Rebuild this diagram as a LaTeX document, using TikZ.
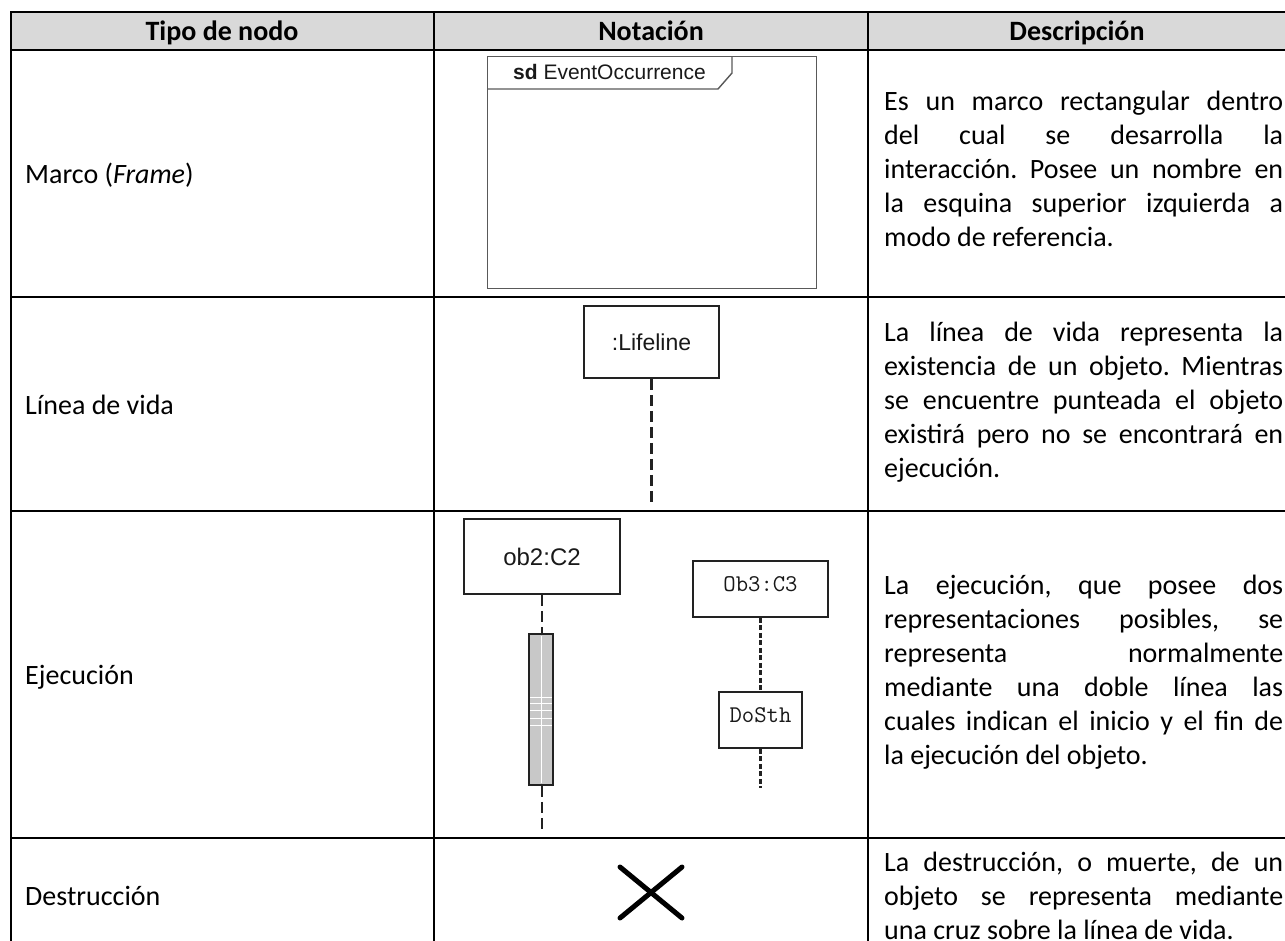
\documentclass[tikz,border=0pt]{standalone}
\usepackage{fontspec}
\setmainfont{Carlito}
\newfontfamily\arialf{Liberation Sans}
\frenchspacing
\newlength{\dcolw}\setlength{\dcolw}{399pt}
\newcommand{\jline}[1]{\makebox[\dcolw][s]{#1}}
\newcommand{\fstrut}{\rule{0pt}{24pt}}
\definecolor{hdrgray}{HTML}{D9D9D9}
\definecolor{bargray}{HTML}{C8C8C8}
\definecolor{umlline}{HTML}{222222}
\begin{document}
\begin{tikzpicture}[x=1pt,y=-1pt,
  hdr/.style={font=\fontsize{28}{34}\selectfont\bfseries, anchor=base, inner sep=0pt},
  lbl/.style={font=\fontsize{28}{34}\selectfont, anchor=base west, inner sep=0pt},
  desc/.style={font=\fontsize{28}{34}\selectfont\frenchspacing, anchor=north west, inner sep=0pt, align=left},
  gridline/.style={line width=2.2pt, black},
  umlbox/.style={draw=umlline, line width=1.7pt, inner sep=0pt, font=\arialf\fontsize{23}{26}\selectfont, text=black!90},
  ttbox/.style={draw=umlline, line width=1.7pt, inner sep=0pt, font=\ttfamily\fontsize{24}{26}\selectfont, text=black!90, text depth=10pt},
  lifedash/.style={line width=2.2pt, umlline, dash pattern=on 11pt off 5pt},
  densedash/.style={line width=2.6pt, umlline, dash pattern=on 5pt off 2.5pt},
  crossline/.style={line width=5pt, black, line cap=round}]
\useasboundingbox (0,0) rectangle (1285,940);
\clip (0,0) rectangle (1285,940);
% header background
\fill[hdrgray] (11,12) rectangle (1290,50);
% table grid
\draw[gridline] (11,12) -- (1290,12);
\draw[gridline] (11,50) -- (1290,50);
\draw[gridline] (11,297) -- (1290,297);
\draw[gridline] (11,511) -- (1290,511);
\draw[gridline] (11,838) -- (1290,838);
\draw[gridline] (11,11) -- (11,960);
\draw[gridline] (434,12) -- (434,960);
\draw[gridline] (868,12) -- (868,960);
\draw[gridline] (1287,12) -- (1287,960);
% headers
\node[hdr] (h1) at (222,40) {Tipo de nodo};
\node[hdr] (h2) at (651,40) {Notación};
\node[hdr] (h3) at (1077,40) {Descripción};
% first column
\node[lbl] (l1) at (25,183) {Marco (\textit{Frame})};
\node[lbl] (l2) at (25,414) {Línea de vida};
\node[lbl] (l3) at (25,684) {Ejecución};
\node[lbl] (l4) at (25,905) {Destrucción};
% descriptions
\node[desc] (d1) at (884,86) {\fstrut\jline{Es un marco rectangular dentro}\\
\jline{del cual se desarrolla la}\\
\jline{interacción. Posee un nombre en}\\
\jline{la esquina superior izquierda a}\\
modo de referencia.};
\node[desc] (d2) at (884,317) {\fstrut\jline{La línea de vida representa la}\\
\jline{existencia de un objeto. Mientras}\\
\jline{se encuentre punteada el objeto}\\
\jline{existirá pero no se encontrará en}\\
ejecución.};
\node[desc] (d3) at (884,570) {\fstrut\jline{La ejecución, que posee dos}\\
\jline{representaciones posibles, se}\\
\jline{representa normalmente}\\
\jline{mediante una doble línea las}\\
\jline{cuales indican el inicio y el fin de}\\
la ejecución del objeto.};
\node[desc] (d4) at (884,847) {\fstrut\jline{La destrucción, o muerte, de un}\\
\jline{objeto se representa mediante}\\
una cruz sobre la línea de vida.};
% row 1: frame
\node[draw=black!65, line width=1.4pt, minimum width=329pt, minimum height=232pt, anchor=north west, inner sep=0pt] (frame) at (487,56) {};
\draw[black!65, line width=1.4pt] (487,89) -- (718,89) -- (732,73) -- (732,56);
\node[anchor=base west, inner sep=0pt, font=\arialf\fontsize{21}{24}\selectfont, text=black!90] (sd) at (513,79) {\textbf{sd} EventOccurrence};
% row 2: lifeline
\node[umlbox, minimum width=135pt, minimum height=72pt] (life) at (651.5,342) {:Lifeline};
\coordinate (lifeend) at (651.5,503);
\draw[lifedash] (life.south) -- (lifeend);
% row 3: execution, first notation
\node[umlbox, font=\arialf\fontsize{24}{28}\selectfont, minimum width=156pt, minimum height=75pt] (ob2) at (542,556.5) {ob2:C2};
\node[draw=umlline, fill=bargray, line width=1.5pt, minimum width=24pt, minimum height=151pt, inner sep=0pt] (bar) at (541,709.5) {};
\draw[white, line width=0.9pt] (541,636) -- (541,783);
\foreach \yy in {697,703,710,718,725} \draw[white, line width=0.9pt] (530,\yy) -- (552,\yy);
\coordinate (ob2end) at (542,831);
\draw[lifedash] (ob2.south) -- (ob2.south |- bar.north);
\draw[lifedash] (bar.south -| ob2.south) -- (ob2end);
% row 3: execution, second notation
\node[ttbox, minimum width=135pt, minimum height=56pt] (ob3) at (760.5,589) {Ob3:C3};
\node[ttbox, minimum width=83pt, minimum height=56pt] (dosth) at (760.5,720) {DoSth};
\coordinate (ob3end) at (760.5,788);
\draw[densedash] (ob3.south) -- (dosth.north);
\draw[densedash] (dosth.south) -- (ob3end);
% row 4: destruction cross
\draw[crossline] (620,867) -- (682,918);
\draw[crossline] (620,918) -- (682,867);
\end{tikzpicture}
\end{document}
